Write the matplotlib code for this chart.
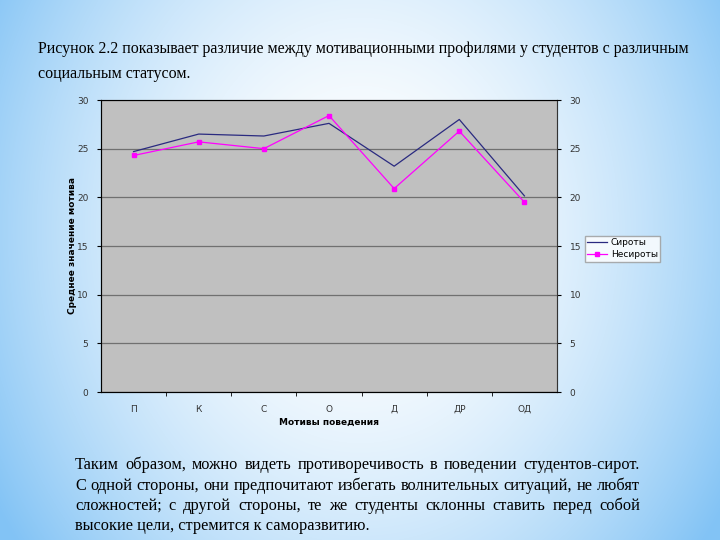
import numpy as np
import matplotlib
matplotlib.use("Agg")
import matplotlib.pyplot as plt
from matplotlib.lines import Line2D

CATEGORIES = ["П", "К", "С", "О", "Д", "ДР", "ОД"]
ORPHANS = [24.7, 26.5, 26.3, 27.6, 23.2, 28.0, 20.15]
NON_ORPHANS = [24.3, 25.7, 25.0, 28.4, 20.9, 26.8, 19.5]
Y_TICKS = [0, 5, 10, 15, 20, 25, 30]

TITLE_LINES = [
    "Рисунок 2.2 показывает различие между мотивационными профилями у студентов с различным",
    "социальным статусом.",
]
BODY_LINES = [
    "Таким образом, можно видеть противоречивость в поведении студентов-сирот.",
    "С одной стороны, они предпочитают избегать волнительных ситуаций, не любят",
    "сложностей; с другой стороны, те же студенты склонны ставить перед собой",
    "высокие цели, стремится к саморазвитию.",
]

W, H = 720, 540


def background(fig):
    bg = fig.add_axes([0, 0, 1, 1], zorder=-10)
    yy, xx = np.mgrid[0:H, 0:W]
    d = np.sqrt(((xx - 360) / 430.0) ** 2 + ((yy - 230) / 520.0) ** 2)
    t = np.clip(d, 0, 1) ** 1.8
    edge = np.array([130, 195, 245]) / 255.0
    img = (1 - t)[..., None] * np.ones(3) + t[..., None] * edge
    bg.imshow(img, aspect="auto", extent=[0, 1, 0, 1], origin="upper")
    bg.axis("off")


def justify(fig, text, x0, x1, y, size):
    words = text.split(" ")
    renderer = fig.canvas.get_renderer()
    objs = [fig.text(0, y, w, fontsize=size, family="Liberation Serif", va="baseline")
            for w in words]
    widths = [o.get_window_extent(renderer).width / W for o in objs]
    gap = (x1 - x0 - sum(widths)) / (len(words) - 1)
    x = x0
    for o, w in zip(objs, widths):
        o.set_x(x)
        x += w + gap


def main():
    fig = plt.figure(figsize=(7.2, 5.4), dpi=100)
    background(fig)

    for i, line in enumerate(TITLE_LINES):
        fig.text(38 / W, 1 - (53 + 25 * i) / H, line, fontsize=11.5,
                 family="Liberation Serif", va="baseline")

    ax = fig.add_axes([101 / W, 1 - 392 / H, 456 / W, 292 / H])
    ax.set_facecolor("#c0c0c0")
    x = np.arange(len(CATEGORIES))
    ax.plot(x, ORPHANS, color="#2a2a80", lw=0.9, label="Сироты")
    ax.plot(x, NON_ORPHANS, color="#ff00ff", lw=0.9, marker="s", ms=3.5,
            label="Несироты")
    ax.set_xlim(-0.5, len(CATEGORIES) - 0.5)
    ax.set_ylim(0, 30)
    ax.set_yticks(Y_TICKS)
    ax.set_yticklabels([str(v) for v in Y_TICKS], fontsize=6.5, color="#333333")
    ax.grid(axis="y", color="#707070", lw=0.9)
    ax.set_axisbelow(True)
    ax.set_xticks(x)
    ax.set_xticklabels(CATEGORIES, fontsize=6.5, color="#333333")
    ax.tick_params(axis="x", length=0, pad=9)
    ax.set_xticks(np.arange(0.5, len(CATEGORIES) - 0.5), minor=True)
    ax.tick_params(axis="x", which="minor", length=3, direction="out")
    ax.tick_params(axis="y", length=3, direction="out", pad=6)
    for side in ["top", "right"]:
        ax.spines[side].set_color("#808080")
    ax.spines["left"].set_color("#333333")
    ax.spines["bottom"].set_color("#333333")

    ax2 = ax.twinx()
    ax2.set_ylim(0, 30)
    ax2.set_yticks(Y_TICKS)
    ax2.set_yticklabels([str(v) for v in Y_TICKS], fontsize=6.5, color="#333333")
    ax2.tick_params(axis="y", length=3, direction="out", pad=6)
    ax2.spines["right"].set_color("#333333")

    ax.set_xlabel("Мотивы поведения", fontsize=6.5, fontweight="bold", labelpad=3)
    ax.set_ylabel("Среднее значение мотива", fontsize=6.5, fontweight="bold",
                  labelpad=0)

    handles = [Line2D([], [], color="#2a2a80", lw=0.9),
               Line2D([], [], color="#ff00ff", lw=0.9, marker="s", ms=3.5)]
    fig.legend(handles, ["Сироты", "Несироты"], loc="upper left",
               bbox_to_anchor=(580 / W, 1 - 231 / H), fontsize=6.5,
               frameon=True, fancybox=False, edgecolor="#999999",
               handlelength=2.2, borderpad=0.3, labelspacing=0.3,
               handletextpad=0.4)

    fig.canvas.draw()
    for i, line in enumerate(BODY_LINES):
        y = 1 - (469 + 20.5 * i) / H
        if i < len(BODY_LINES) - 1:
            justify(fig, line, 75 / W, 640 / W, y, 11.8)
        else:
            fig.text(75 / W, y, line, fontsize=11.8, family="Liberation Serif",
                     va="baseline")

    fig.savefig("out.png", dpi=100)


if __name__ == "__main__":
    main()
